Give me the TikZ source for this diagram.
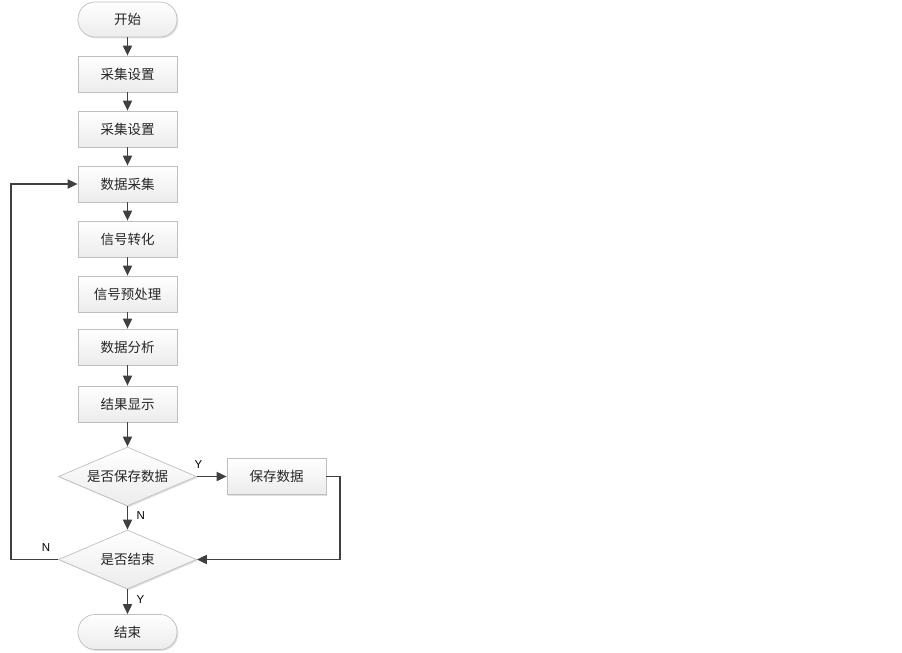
\documentclass[tikz,border=0pt]{standalone}
\usepackage{fontspec}
\setmainfont{Liberation Sans}
\newfontfamily\cjk{Noto Sans CJK SC}
\usetikzlibrary{arrows.meta,shapes.geometric,shadows}
\definecolor{ln}{HTML}{404040}
\definecolor{bd}{HTML}{BFBFBF}
\begin{document}
\begin{tikzpicture}[x=1pt,y=-1pt,
  base/.style={draw=bd,line width=0.7pt,top color=white,bottom color=gray!15,
     font=\cjk\fontsize{13.5}{15}\selectfont,text=black!85,
     drop shadow={shadow xshift=1.3pt,shadow yshift=-1.3pt,fill=gray!40,opacity=0.6}},
  proc/.style={base,rectangle,minimum width=99pt,minimum height=36pt,inner sep=0pt},
  term/.style={base,rounded corners=17pt,minimum width=99pt,minimum height=35pt,inner sep=0pt},
  dec/.style={base,diamond,aspect=2.34,minimum width=138pt,minimum height=59pt,inner sep=0pt},
  conn/.style={draw=ln,line width=1.8pt,-{Triangle[length=10pt,width=9pt]}},
  lab/.style={font=\fontsize{11.5}{13}\selectfont,text=black}]
\useasboundingbox (0,0) rectangle (902,653);
\node[term] (s) at (127.5,19.5) {开始};
\node[proc] (b1) at (127.5,74) {采集设置};
\node[proc] (b2) at (127.5,129) {采集设置};
\node[proc] (b3) at (127.5,184) {数据采集};
\node[proc] (b4) at (127.5,239) {信号转化};
\node[proc] (b5) at (127.5,294) {信号预处理};
\node[proc] (b6) at (127.5,347) {数据分析};
\node[proc] (b7) at (127.5,404) {结果显示};
\node[dec] (d1) at (127.5,476.5) {是否保存数据};
\node[proc] (sv) at (276.5,476.5) {保存数据};
\node[dec] (d2) at (127.5,559.5) {是否结束};
\node[term] (e) at (127.5,632) {结束};
\coordinate (l1) at (11,559.5);
\coordinate (l2) at (11,184);
\coordinate (r1) at (340,476.5);
\coordinate (r2) at (340,559.5);
\draw[conn] (s) -- (b1);
\draw[conn] (b1) -- (b2);
\draw[conn] (b2) -- (b3);
\draw[conn] (b3) -- (b4);
\draw[conn] (b4) -- (b5);
\draw[conn] (b5) -- (b6);
\draw[conn] (b6) -- (b7);
\draw[conn] (b7) -- (d1);
\draw[conn] (d1) -- node[lab,right,pos=0.4,xshift=5pt]{N} (d2);
\draw[conn] (d2) -- node[lab,right,pos=0.4,xshift=5pt]{Y} (e);
\draw[conn] (d1.east) -- node[lab,above,pos=0.05,yshift=4pt]{Y} (sv.west);
\draw[conn] (d2.west) -- (l1) -- (l2) -- (b3.west);
\draw[conn] (sv.east) -- (r1) -- (r2) -- (d2.east);
\node[lab] (n2) at (46,548) {N};
\end{tikzpicture}
\end{document}
